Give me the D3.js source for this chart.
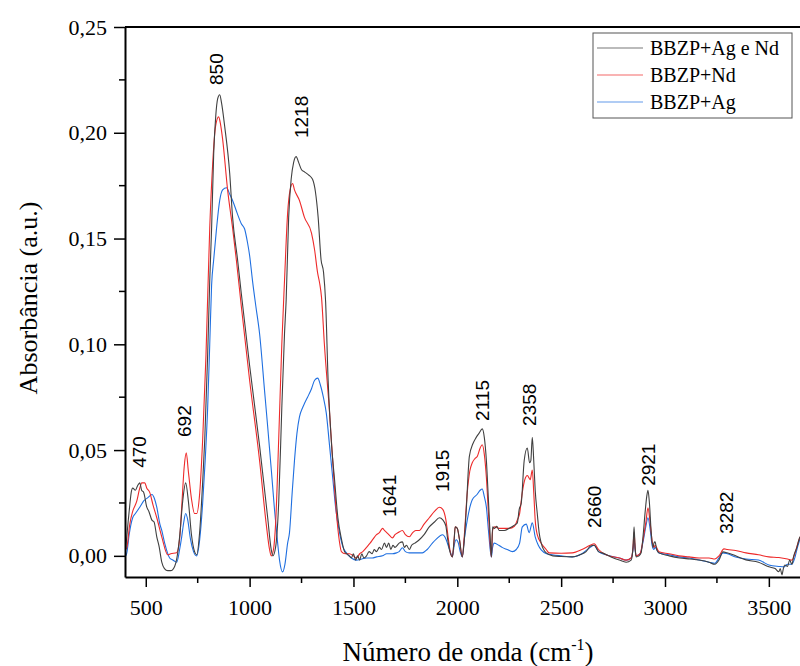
<!DOCTYPE html>
<html>
<head>
<meta charset="utf-8">
<script src="https://cdn.jsdelivr.net/npm/d3@7"></script>
<style>
  body { margin: 0; background: #fff; }
  svg { display: block; }
</style>
</head>
<body>
<div id="chart"></div>
<script>
// FTIR spectra, [wavenumber cm-1, absorbance]
const seriesNames = ["BBZP+Ag e Nd", "BBZP+Nd", "BBZP+Ag"];
const seriesColors = ["#404040", "#ee2a2a", "#1f6fe0"];

const agNd = [
  [404,0.004],[415,0.016],[423,0.024],[430,0.030],[437,0.032],[450,0.031],[460,0.033],[471,0.0345],
  [480,0.031],[490,0.030],[505,0.023],[515,0.021],[529,0.017],[540,0.016],[553,0.009],[565,0.004],
  [577,-0.003],[590,-0.006],[606,-0.007],[620,-0.007],[639,-0.005],[650,-0.001],[663,0.009],[678,0.026],
  [692,0.0345],[705,0.026],[720,0.010],[735,0.002],[745,0.0005],[760,0.012],[774,0.035],[784,0.055],
  [798,0.095],[808,0.130],[817,0.155],[827,0.190],[837,0.208],[846,0.216],[856,0.218],[865,0.214],
  [880,0.203],[904,0.181],[918,0.160],[942,0.140],[960,0.124],[1000,0.090],[1048,0.052],[1087,0.018],
  [1104,0.003],[1112,0.0],[1125,0.004],[1140,0.025],[1155,0.070],[1168,0.105],[1176,0.121],[1188,0.160],
  [1200,0.178],[1212,0.186],[1224,0.1887],[1236,0.186],[1250,0.1825],[1264,0.1815],[1285,0.180],[1303,0.178],
  [1317,0.172],[1330,0.160],[1344,0.140],[1356,0.134],[1366,0.120],[1378,0.083],[1395,0.052],[1409,0.036],
  [1425,0.018],[1442,0.008],[1457,0.002],[1466,0.001],[1480,0.000],[1490,-0.001],[1500,0.001],[1510,-0.002],
  [1520,0.000],[1530,-0.002],[1540,0.001],[1550,-0.001],[1563,0.000],[1575,0.002],[1590,0.001],[1600,0.003],
  [1611,0.002],[1625,0.004],[1635,0.003],[1649,0.006],[1659,0.004],[1670,0.006],[1680,0.003],[1690,0.005],
  [1700,0.004],[1720,0.006],[1736,0.0066],[1745,0.004],[1755,0.005],[1769,0.003],[1780,0.005],[1795,0.006],
  [1817,0.0076],[1840,0.010],[1865,0.0137],[1890,0.016],[1914,0.018],[1930,0.017],[1945,0.014],[1952,0.009],
  [1962,0.003],[1976,-0.0005],[1985,0.008],[1990,0.0137],[2000,0.013],[2010,0.008],[2024,-0.0005],[2034,0.008],
  [2043,0.0217],[2058,0.047],[2075,0.053],[2091,0.056],[2105,0.058],[2120,0.060],[2130,0.056],[2140,0.045],
  [2149,0.028],[2157,0.012],[2164,-0.0005],[2170,0.0137],[2178,0.013],[2190,0.014],[2202,0.012],[2226,0.012],
  [2250,0.013],[2275,0.0145],[2289,0.0156],[2298,0.022],[2308,0.025],[2322,0.045],[2337,0.051],[2348,0.044],
  [2354,0.045],[2361,0.056],[2368,0.045],[2375,0.031],[2385,0.020],[2394,0.011],[2404,0.006],[2428,0.0014],
  [2460,0.0],[2500,-0.0003],[2553,-0.0005],[2590,0.0005],[2620,0.002],[2640,0.0045],[2659,0.005],[2680,0.002],
  [2697,0.0014],[2740,-0.0005],[2780,-0.002],[2813,-0.003],[2837,-0.002],[2846,0.004],[2851,0.0137],[2856,0.004],
  [2861,-0.0005],[2875,0.000],[2885,0.0014],[2895,0.010],[2904,0.0203],[2912,0.028],[2918,0.031],[2925,0.025],
  [2933,0.012],[2942,0.004],[2947,0.0061],[2952,0.0066],[2960,0.003],[2971,0.0014],[3020,0.0],[3070,-0.001],
  [3120,-0.0015],[3164,-0.002],[3212,-0.003],[3240,-0.004],[3260,-0.002],[3279,0.0019],[3298,0.0015],[3340,0.0],
  [3390,-0.0019],[3450,-0.003],[3500,-0.0052],[3530,-0.006],[3548,-0.0075],[3555,-0.006],[3563,-0.009],[3570,-0.006],
  [3577,-0.0043],[3590,-0.005],[3600,-0.002],[3611,-0.004],[3620,0.000],[3635,0.004],[3645,0.0076],[3650,0.009]
];

const nd = [
  [404,0.003],[409,0.004],[423,0.015],[437,0.021],[457,0.026],[471,0.032],[481,0.0345],[495,0.0345],
  [505,0.032],[519,0.030],[535,0.024],[553,0.018],[577,0.009],[606,0.0005],[620,0.001],[649,0.0015],
  [663,0.008],[673,0.023],[685,0.042],[695,0.0487],[705,0.040],[720,0.027],[735,0.020],[745,0.020],
  [760,0.030],[774,0.055],[790,0.095],[808,0.155],[822,0.185],[836,0.203],[851,0.2075],[860,0.204],
  [870,0.197],[894,0.173],[918,0.155],[936,0.140],[960,0.118],[1000,0.083],[1048,0.045],[1080,0.015],
  [1096,0.003],[1104,0.0],[1115,0.003],[1125,0.015],[1140,0.055],[1155,0.100],[1168,0.130],[1183,0.162],
  [1195,0.173],[1207,0.176],[1216,0.173],[1240,0.168],[1264,0.160],[1298,0.1526],[1313,0.1446],[1327,0.134],
  [1337,0.129],[1346,0.1224],[1360,0.100],[1385,0.0676],[1400,0.045],[1418,0.020],[1432,0.007],[1442,0.002],
  [1460,0.001],[1480,0.001],[1500,0.000],[1514,-0.001],[1530,0.001],[1545,0.002],[1563,0.004],[1580,0.006],
  [1595,0.008],[1611,0.010],[1625,0.011],[1640,0.013],[1649,0.012],[1660,0.011],[1670,0.010],[1680,0.009],
  [1688,0.0085],[1700,0.010],[1715,0.011],[1736,0.012],[1750,0.010],[1769,0.009],[1785,0.011],[1800,0.012],
  [1817,0.012],[1840,0.015],[1865,0.018],[1890,0.021],[1914,0.023],[1930,0.022],[1945,0.017],[1957,0.008],
  [1966,0.002],[1976,-0.0005],[1985,0.008],[1990,0.0137],[2000,0.013],[2010,0.008],[2024,-0.0005],[2034,0.010],
  [2048,0.030],[2060,0.040],[2072,0.044],[2085,0.046],[2096,0.047],[2110,0.051],[2120,0.0525],[2130,0.048],
  [2140,0.037],[2150,0.020],[2164,-0.0005],[2170,0.012],[2178,0.0137],[2200,0.013],[2230,0.013],[2250,0.013],
  [2275,0.014],[2289,0.017],[2300,0.020],[2313,0.030],[2325,0.036],[2337,0.038],[2351,0.036],[2361,0.0406],
  [2368,0.030],[2375,0.017],[2385,0.010],[2404,0.006],[2428,0.003],[2442,0.0014],[2500,0.0012],[2553,0.0014],
  [2600,0.003],[2640,0.005],[2659,0.0057],[2680,0.003],[2716,0.0005],[2780,-0.001],[2813,-0.002],[2837,-0.001],
  [2846,0.004],[2851,0.011],[2856,0.004],[2861,0.000],[2880,0.001],[2895,0.008],[2908,0.016],[2918,0.0227],
  [2928,0.016],[2938,0.007],[2947,0.004],[2952,0.005],[2971,0.0019],[3019,0.0010],[3067,0.000],[3116,-0.0005],
  [3164,-0.001],[3212,-0.001],[3240,-0.0015],[3260,0.0],[3284,0.0033],[3300,0.003],[3340,0.0025],[3390,0.0014],
  [3450,0.0005],[3500,-0.0005],[3548,-0.0008],[3590,-0.0015],[3611,-0.002],[3625,0.001],[3640,0.006],[3650,0.009]
];

const ag = [
  [404,0.000],[409,0.0015],[420,0.010],[437,0.018],[450,0.020],[471,0.023],[490,0.026],[510,0.0275],
  [530,0.029],[542,0.027],[553,0.023],[568,0.015],[577,0.012],[591,0.006],[615,-0.001],[630,-0.002],
  [649,-0.003],[663,0.003],[673,0.009],[683,0.016],[692,0.020],[702,0.017],[715,0.008],[730,0.002],
  [745,0.000],[760,0.008],[774,0.025],[786,0.045],[798,0.070],[808,0.100],[817,0.128],[827,0.140],
  [840,0.154],[856,0.168],[870,0.173],[889,0.174],[904,0.171],[918,0.168],[940,0.162],[960,0.157],
  [976,0.1545],[990,0.148],[1000,0.142],[1014,0.130],[1030,0.118],[1048,0.105],[1072,0.078],[1087,0.061],
  [1105,0.040],[1120,0.0217],[1135,0.006],[1144,-0.002],[1159,-0.0076],[1170,-0.004],[1183,0.006],[1192,0.011],
  [1205,0.030],[1216,0.045],[1228,0.058],[1240,0.0657],[1255,0.070],[1264,0.072],[1279,0.075],[1298,0.079],
  [1313,0.083],[1328,0.084],[1340,0.081],[1355,0.075],[1369,0.0676],[1385,0.052],[1401,0.036],[1415,0.022],
  [1433,0.011],[1450,0.004],[1466,0.0014],[1490,-0.001],[1514,-0.002],[1540,-0.0015],[1563,-0.001],[1590,-0.001],
  [1611,-0.0005],[1640,0.000],[1660,0.001],[1688,0.001],[1707,0.0014],[1720,0.002],[1736,0.0038],[1750,0.002],
  [1769,0.0014],[1800,0.0014],[1832,0.0014],[1855,0.003],[1880,0.006],[1900,0.008],[1928,0.010],[1945,0.008],
  [1952,0.006],[1966,0.002],[1976,-0.0005],[1985,0.005],[1995,0.0076],[2005,0.006],[2014,0.002],[2024,-0.0005],
  [2034,0.008],[2048,0.017],[2072,0.0265],[2095,0.029],[2110,0.031],[2120,0.0316],[2130,0.028],[2140,0.023],
  [2150,0.012],[2164,-0.0005],[2170,0.004],[2178,0.006],[2200,0.005],[2216,0.004],[2240,0.003],[2265,0.002],
  [2284,0.003],[2300,0.006],[2313,0.0137],[2332,0.015],[2346,0.011],[2361,0.0156],[2375,0.009],[2390,0.005],
  [2404,0.0028],[2430,0.001],[2457,0.0005],[2500,0.0],[2553,-0.0005],[2600,0.001],[2640,0.004],[2659,0.005],
  [2680,0.002],[2716,0.0005],[2780,-0.001],[2813,-0.002],[2837,-0.001],[2846,0.003],[2851,0.008],[2856,0.003],
  [2861,0.000],[2880,0.001],[2895,0.007],[2908,0.014],[2918,0.018],[2928,0.013],[2938,0.005],[2947,0.003],
  [2952,0.004],[2971,0.0014],[3019,0.0005],[3067,-0.0005],[3116,-0.001],[3164,-0.002],[3212,-0.003],[3240,-0.0035],
  [3260,-0.001],[3279,0.0014],[3300,0.001],[3340,-0.0005],[3390,-0.0015],[3450,-0.002],[3500,-0.0043],[3548,-0.005],
  [3573,-0.0052],[3590,-0.004],[3611,-0.004],[3625,-0.001],[3635,0.003],[3650,0.008]
];

// peak annotations: text, wavenumber where the label sits, absorbance at label base
const peakNames = ["470", "692", "850", "1218", "1641", "1915", "2115", "2358", "2660", "2921", "3282"];
const peakWn = [471, 687, 841, 1250, 1673, 1928, 2120, 2346, 2659, 2918, 3293];
const peakBase = [0.0416, 0.0562, 0.2226, 0.1975, 0.0184, 0.0302, 0.0638, 0.0614, 0.0132, 0.0331, 0.0104];

const xTicks = [500, 1000, 1500, 2000, 2500, 3000, 3500];
const yTicks = [0, 0.05, 0.10, 0.15, 0.20, 0.25];

const width = 800;
const height = 666;
const margin = { top: 27, right: 0, bottom: 89, left: 125 };

const x = d3.scaleLinear()
  .domain([400, 3650])
  .range([margin.left, width - margin.right]);

const y = d3.scaleLinear()
  .domain([-0.01, 0.25])
  .range([height - margin.bottom, margin.top]);

const svg = d3.select("#chart")
  .append("svg")
  .attr("width", width)
  .attr("height", height);

svg.append("defs").append("clipPath")
  .attr("id", "plot-clip")
  .append("rect")
  .attr("x", margin.left)
  .attr("y", margin.top)
  .attr("width", width - margin.left - margin.right)
  .attr("height", height - margin.top - margin.bottom);

const line = d3.line()
  .x((d) => x(d[0]))
  .y((d) => y(d[1]))
  .curve(d3.curveMonotoneX);

const allSeries = [agNd, nd, ag];

// draw blue first so the dark trace stays on top
svg.append("g")
  .attr("clip-path", "url(#plot-clip)")
  .selectAll("path")
  .data([2, 1, 0])
  .join("path")
  .attr("fill", "none")
  .attr("stroke", (i) => seriesColors[i])
  .attr("stroke-width", 1.1)
  .attr("stroke-linejoin", "round")
  .attr("d", (i) => line(allSeries[i]));

const fmt = (v) => d3.format(".2f")(v).replace(".", ",");
const serif = "Liberation Serif, Times New Roman, serif";

// x axis
const xAxisG = svg.append("g")
  .attr("transform", `translate(0,${height - margin.bottom})`)
  .call(d3.axisBottom(x).tickValues(xTicks).tickSize(10).tickSizeOuter(0).tickPadding(12).tickFormat(d3.format("d")));
xAxisG.append("g")
  .selectAll("line")
  .data(d3.range(750, 3650, 500))
  .join("line")
  .attr("x1", (d) => x(d))
  .attr("x2", (d) => x(d))
  .attr("y2", 6)
  .attr("stroke", "#000")
  .attr("stroke-width", 1.5);

// y axis
const yAxisG = svg.append("g")
  .attr("transform", `translate(${margin.left},0)`)
  .call(d3.axisLeft(y).tickValues(yTicks).tickSize(11).tickSizeOuter(0).tickPadding(7).tickFormat(fmt));
yAxisG.append("g")
  .selectAll("line")
  .data([0.025, 0.075, 0.125, 0.175, 0.225])
  .join("line")
  .attr("y1", (d) => y(d))
  .attr("y2", (d) => y(d))
  .attr("x2", -6)
  .attr("stroke", "#000")
  .attr("stroke-width", 1.5);

[xAxisG, yAxisG].forEach((g) => {
  g.attr("font-family", serif).attr("font-size", 22);
  g.select(".domain").attr("stroke-width", 2);
  g.selectAll(".tick line").attr("stroke-width", 1.5);
  g.selectAll(".tick text")
    .style("font-family", serif)
    .attr("font-size", 22)
    .attr("fill", "#000");
});

// top frame line
svg.append("line")
  .attr("x1", margin.left)
  .attr("x2", width)
  .attr("y1", margin.top)
  .attr("y2", margin.top)
  .attr("stroke", "#000")
  .attr("stroke-width", 2);

// axis titles
svg.append("text")
  .attr("transform", `translate(37,${(margin.top + height - margin.bottom) / 2 - 4}) rotate(-90)`)
  .attr("text-anchor", "middle")
  .style("font-family", serif)
  .attr("font-size", 26)
  .text("Absorbância (a.u.)");

const xTitle = svg.append("text")
  .attr("x", 468)
  .attr("y", 661)
  .attr("text-anchor", "middle")
  .style("font-family", serif)
  .attr("font-size", 27);
xTitle.append("tspan").text("Número de onda (cm");
xTitle.append("tspan").attr("font-size", 16).attr("dy", -11).text("-1");
xTitle.append("tspan").attr("dy", 11).text(")");

// peak labels
svg.append("g")
  .selectAll("text")
  .data(peakNames)
  .join("text")
  .attr("transform", (d, i) => `translate(${x(peakWn[i])},${y(peakBase[i])}) rotate(-90)`)
  .attr("dy", "0.35em")
  .style("font-family", "Liberation Sans, Arial, sans-serif")
  .attr("font-size", 19)
  .attr("fill", "#000")
  .text((d) => d);

// legend
const legend = svg.append("g").attr("transform", "translate(593,33)");
legend.append("rect")
  .attr("width", 199)
  .attr("height", 85)
  .attr("fill", "#fff")
  .attr("stroke", "#555")
  .attr("stroke-width", 1);
const item = legend.selectAll(".item")
  .data(seriesNames)
  .join("g")
  .attr("class", "item")
  .attr("transform", (d, i) => `translate(0,${15 + i * 27})`);
item.append("line")
  .attr("x1", 4)
  .attr("x2", 50)
  .attr("stroke", (d, i) => seriesColors[i])
  .attr("stroke-opacity", 0.7)
  .attr("stroke-width", 1.2);
item.append("text")
  .attr("x", 57)
  .attr("dy", "0.35em")
  .style("font-family", serif)
  .attr("font-size", 20)
  .text((d) => d);
</script>
</body>
</html>
